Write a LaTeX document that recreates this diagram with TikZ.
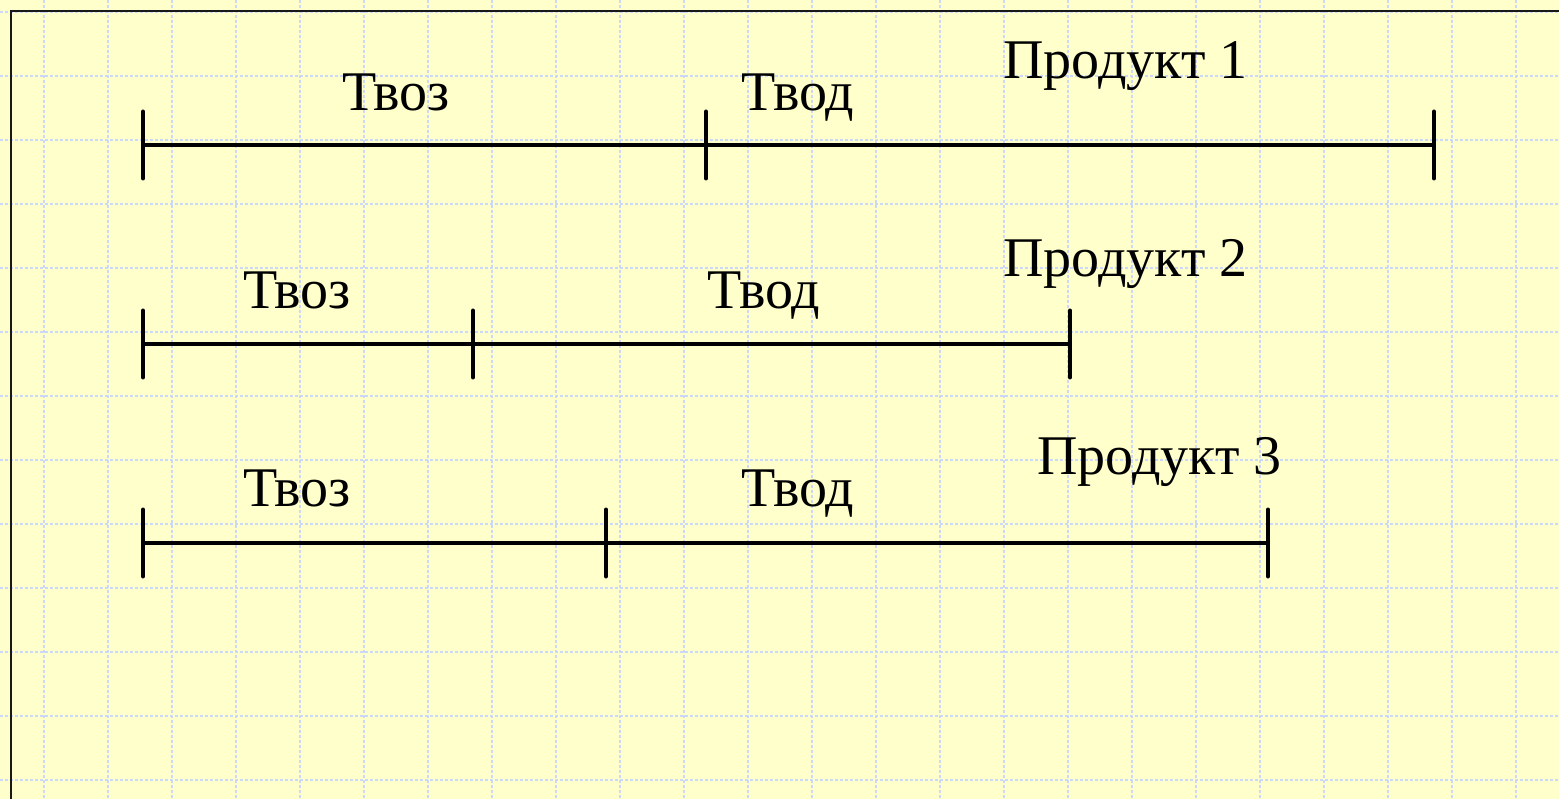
\documentclass[tikz,border=0pt]{standalone}
\usepackage{fontspec}
\setmainfont{Liberation Serif}
\definecolor{paper}{HTML}{FFFFCC}
\definecolor{gridblue}{HTML}{CCD8FA}
\tikzset{
  timeline/.style={line width=4pt, line cap=round, black},
  tickmark/.style={line width=4pt, line cap=round, black},
  phase/.style={inner sep=0pt, anchor=base, font=\fontsize{56}{62}\selectfont},
  product/.style={inner sep=0pt, anchor=base west, font=\fontsize{56}{62}\selectfont},
  gridline/.style={gridblue, line width=2pt, dash pattern=on 3pt off 2pt},
}
\begin{document}
\begin{tikzpicture}[x=1pt,y=-1pt]
  \useasboundingbox (0,0) rectangle (1559,799);
  \fill[paper] (0,0) rectangle (1559,799);
  % dashed grid
  \foreach \gx in {44,108,...,1559} \draw[gridline] (\gx,0) -- (\gx,799);
  \foreach \gy in {12,76,...,799} \draw[gridline] (0,\gy) -- (1559,\gy);
  % frame
  \draw[line width=2.4pt, black!90] (11,799) -- (11,11) -- (1559,11);

  % rows: baseline of the timeline, break point, end point
  \foreach \r/\ly/\mx/\ex in {1/145/706/1434, 2/344/473/1070, 3/543/606/1268} {
    \coordinate (s\r) at (143,\ly);
    \coordinate (m\r) at (\mx,\ly);
    \coordinate (e\r) at (\ex,\ly);
    \draw[timeline] (s\r) -- (e\r);
    \foreach \p in {s,m,e}
      \draw[tickmark] ([yshift=-33.5pt]\p\r) -- ([yshift=33.5pt]\p\r);
  }

  % labels
  \node[phase] (voz1) at (396,111) {Твоз};
  \node[phase] (vod1) at (798,111) {Твод};
  \node[product] (prod1) at (1003,79) {Продукт 1};

  \node[phase] (voz2) at (297,309) {Твоз};
  \node[phase] (vod2) at (764,309) {Твод};
  \node[product] (prod2) at (1003,277) {Продукт 2};

  \node[phase] (voz3) at (297,507) {Твоз};
  \node[phase] (vod3) at (798,507) {Твод};
  \node[product] (prod3) at (1037,475) {Продукт 3};
\end{tikzpicture}
\end{document}
